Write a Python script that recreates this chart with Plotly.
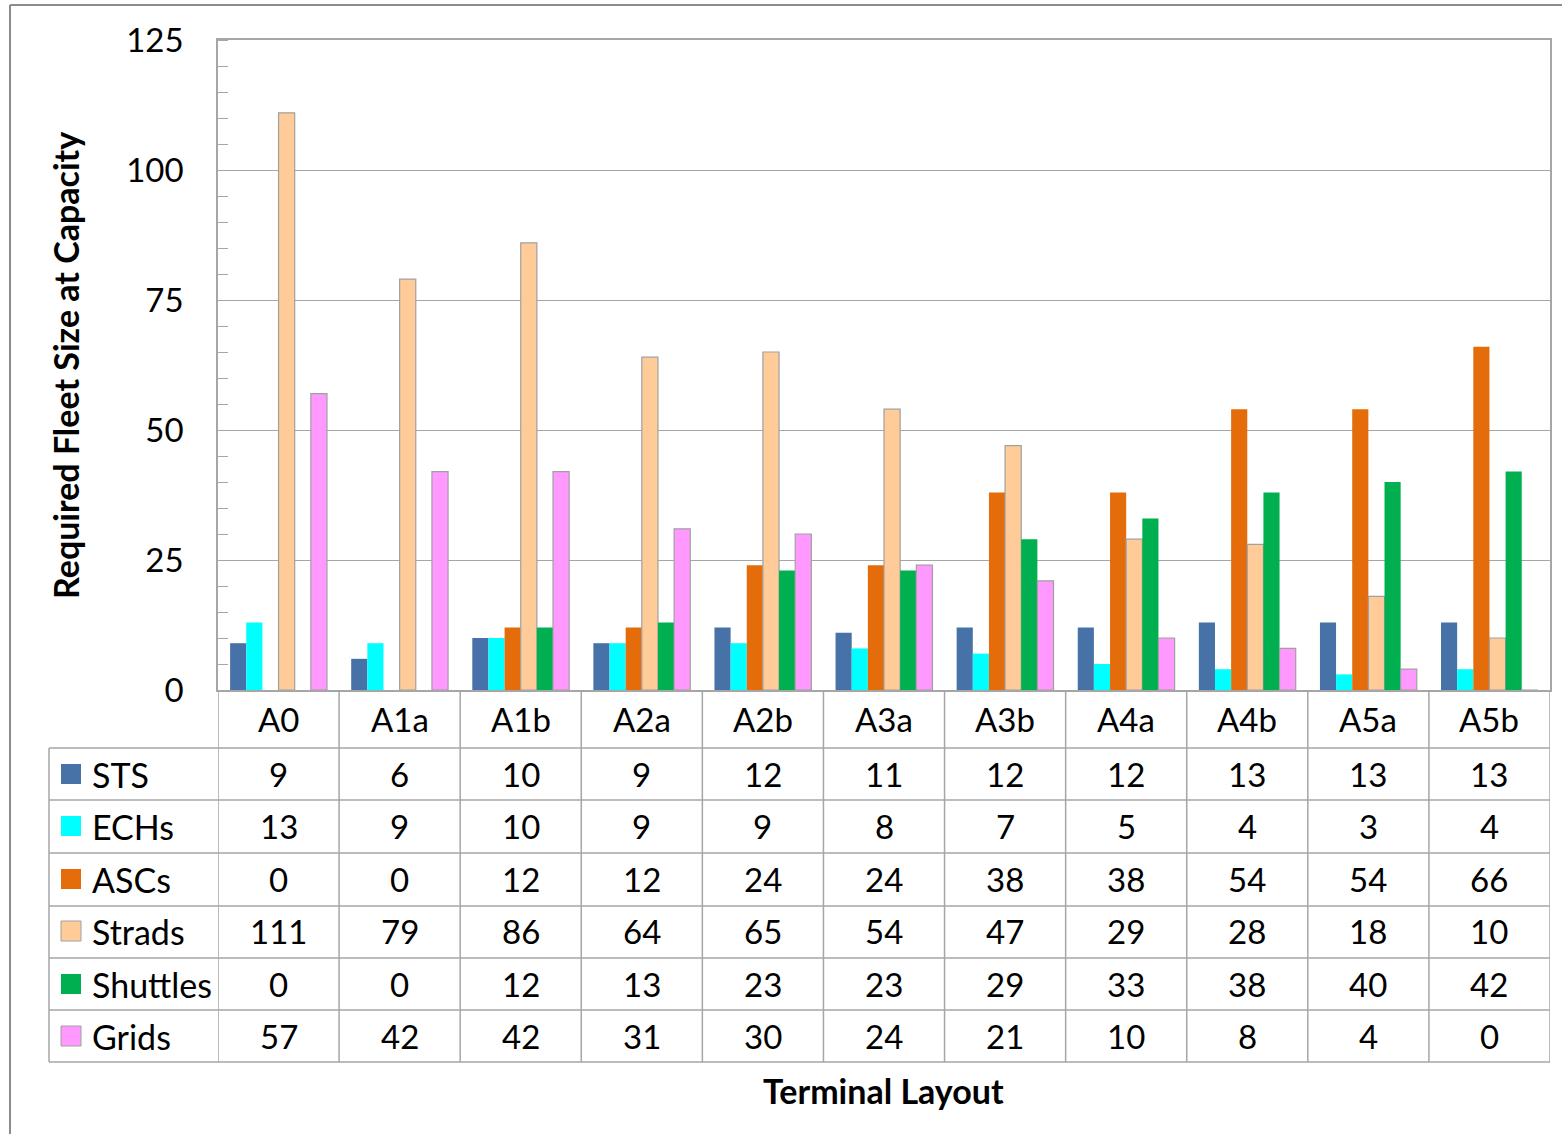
import plotly.graph_objects as go

layouts = ["A0", "A1a", "A1b", "A2a", "A2b", "A3a", "A3b", "A4a", "A4b", "A5a", "A5b"]
series_names = ["STS", "ECHs", "ASCs", "Strads", "Shuttles", "Grids"]
sts = [9, 6, 10, 9, 12, 11, 12, 12, 13, 13, 13]
echs = [13, 9, 10, 9, 9, 8, 7, 5, 4, 3, 4]
ascs = [0, 0, 12, 12, 24, 24, 38, 38, 54, 54, 66]
strads = [111, 79, 86, 64, 65, 54, 47, 29, 28, 18, 10]
shuttles = [0, 0, 12, 13, 23, 23, 29, 33, 38, 40, 42]
grids = [57, 42, 42, 31, 30, 24, 21, 10, 8, 4, 0]
y_ticks = [0, 25, 50, 75, 100, 125]

series_values = [sts, echs, ascs, strads, shuttles, grids]
colors = ["#4672A8", "#00FFFF", "#E46C0A", "#FFCC99", "#00B050", "#FF99FF"]
outlined = {"Strads", "Grids"}

W, H = 1562, 1134
GRID = "#A6A6A6"
FONT = "Lato"


def px(x):
    return x / W


def py(y):
    return 1 - y / H


fig = go.Figure()
for name, vals, col in zip(series_names, series_values, colors):
    fig.add_trace(go.Bar(
        x=layouts, y=vals, name=name,
        marker=dict(color=col,
                    line=dict(color="#A0A0A0" if name in outlined else col,
                              width=1.2 if name in outlined else 0)),
        showlegend=False,
    ))

shapes = []
annotations = []

# data table: category header row + one row per series
row_edges = [748, 800, 853, 906, 958, 1010, 1062]
for y in row_edges:
    shapes.append(dict(type="line", xref="paper", yref="paper",
                       x0=px(49), x1=px(1550), y0=py(y), y1=py(y),
                       line=dict(color=GRID, width=1.5)))
# left column border
shapes.append(dict(type="line", xref="paper", yref="paper",
                   x0=px(49), x1=px(49), y0=py(748), y1=py(1062),
                   line=dict(color=GRID, width=1.5)))
# column separators aligned with the category axis
for k in range(len(layouts) + 1):
    shapes.append(dict(type="line", xref="x", yref="paper",
                       x0=k - 0.5, x1=k - 0.5, y0=py(690), y1=py(1062),
                       line=dict(color=GRID, width=1.5)))

# chart frame
shapes.append(dict(type="line", xref="paper", yref="paper",
                   x0=px(10), x1=px(10), y0=py(5), y1=0,
                   line=dict(color="#8C8C8C", width=2)))
shapes.append(dict(type="line", xref="paper", yref="paper",
                   x0=px(10), x1=1, y0=py(5), y1=py(5),
                   line=dict(color="#8C8C8C", width=2)))

# category labels
for cat in layouts:
    annotations.append(dict(x=cat, y=py(719), xref="x", yref="paper",
                            text=cat, showarrow=False,
                            font=dict(family=FONT, size=33, color="black"),
                            xanchor="center", yanchor="middle"))

row_centers = [774, 826, 879, 931, 984, 1036]
for name, vals, col, yc in zip(series_names, series_values, colors, row_centers):
    shapes.append(dict(type="rect", xref="paper", yref="paper",
                       x0=px(61), x1=px(81), y0=py(yc - 10), y1=py(yc + 10),
                       fillcolor=col,
                       line=dict(color="#A0A0A0" if name in outlined else col,
                                 width=1 if name in outlined else 0)))
    annotations.append(dict(x=px(90), y=py(yc), xref="paper", yref="paper",
                            text=name, showarrow=False,
                            font=dict(family=FONT, size=34, color="black"),
                            xanchor="left", yanchor="middle"))
    for cat, v in zip(layouts, vals):
        annotations.append(dict(x=cat, y=py(yc), xref="x", yref="paper",
                                text=str(v), showarrow=False,
                                font=dict(family=FONT, size=33, color="black"),
                                xanchor="center", yanchor="middle"))

# axis titles
annotations.append(dict(x=px(65), y=py(366), xref="paper", yref="paper",
                        text="<b>Required Fleet Size at Capacity</b>",
                        textangle=-90, showarrow=False,
                        font=dict(family=FONT, size=34, color="black"),
                        xanchor="center", yanchor="middle"))
annotations.append(dict(x=px(883), y=py(1090), xref="paper", yref="paper",
                        text="<b>Terminal Layout</b>", showarrow=False,
                        font=dict(family=FONT, size=34, color="black"),
                        xanchor="center", yanchor="middle"))

fig.update_layout(
    width=W, height=H,
    margin=dict(l=0, r=0, t=0, b=0, pad=0, autoexpand=False),
    paper_bgcolor="white", plot_bgcolor="white",
    barmode="group", bargap=0.2, bargroupgap=0,
    shapes=shapes, annotations=annotations,
    xaxis=dict(domain=[px(218), px(1550)], type="category",
               range=[-0.5, len(layouts) - 0.5], automargin=False,
               showticklabels=False, ticks="", showgrid=False,
               showline=True, linecolor=GRID, linewidth=1.5, mirror=True,
               zeroline=False),
    yaxis=dict(domain=[py(690), py(40)], range=[0, 125], automargin=False,
               tickvals=y_ticks, ticktext=[str(t) for t in y_ticks],
               ticks="", ticklabelstandoff=26,
               tickfont=dict(family=FONT, size=33, color="black"),
               showgrid=True, gridcolor=GRID, gridwidth=1.2,
               showline=True, linecolor=GRID, linewidth=1.5, mirror=True,
               zeroline=False,
               minor=dict(dtick=5, ticks="inside", ticklen=10,
                          tickcolor=GRID, tickwidth=1.2, showgrid=False)),
)

fig.write_html("out.html")
